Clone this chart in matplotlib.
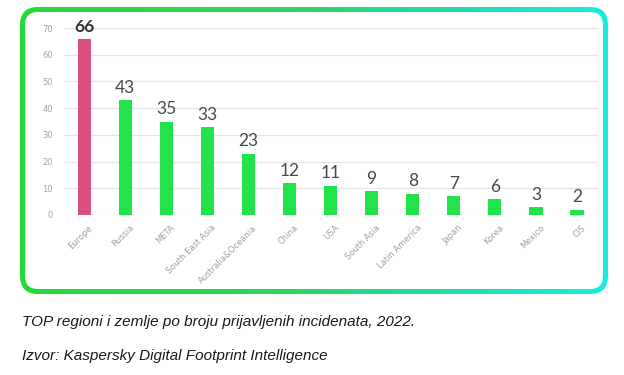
import matplotlib
matplotlib.use("Agg")
import matplotlib.pyplot as plt
import numpy as np
from matplotlib.patches import FancyBboxPatch
from matplotlib.colors import LinearSegmentedColormap
import matplotlib.transforms as mtransforms

categories = ["Europe", "Russia", "META", "South East Asia", "Australia&Oceania",
              "China", "USA", "South Asia", "Latin America", "Japan", "Korea",
              "Mexico", "CIS"]
values = [66, 43, 35, 33, 23, 12, 11, 9, 8, 7, 6, 3, 2]
yticks = [0, 10, 20, 30, 40, 50, 60, 70]
caption1 = "TOP regioni i zemlje po broju prijavljenih incidenata, 2022."
caption2 = "Izvor: Kaspersky Digital Footprint Intelligence"

W, H = 624, 375
fig = plt.figure(figsize=(W / 100, H / 100), dpi=100)
fig.patch.set_facecolor("white")

# background axes in pixel coordinates
bg = fig.add_axes([0, 0, 1, 1])
bg.set_xlim(0, W)
bg.set_ylim(H, 0)
bg.axis("off")

cmap = LinearSegmentedColormap.from_list(
    "grad", [(0.0, "#22dc3a"), (0.45, "#28d65e"), (0.75, "#22dcb0"), (1.0, "#14f0dc")])
grad = np.linspace(0, 1, 512).reshape(1, -1)
x0, y0, x1, y1 = 20, 7, 608, 294
img = bg.imshow(grad, cmap=cmap, extent=(x0, x1, y1, y0), aspect="auto", zorder=0)
outer = FancyBboxPatch((x0, y0), x1 - x0, y1 - y0,
                       boxstyle="round,pad=0,rounding_size=18",
                       transform=bg.transData, facecolor="none", edgecolor="none")
bg.add_patch(outer)
img.set_clip_path(outer)
bw = 5
inner = FancyBboxPatch((x0 + bw, y0 + bw), x1 - x0 - 2 * bw, y1 - y0 - 2 * bw,
                       boxstyle="round,pad=0,rounding_size=13",
                       facecolor="white", edgecolor="none", zorder=1)
bg.add_patch(inner)

bg.text(22, 322, caption1, fontsize=11, style="italic", family="Liberation Sans",
        va="center", ha="left", color="#1a1a1a", zorder=2)
bg.text(22, 356, caption2, fontsize=11, style="italic", family="Liberation Sans",
        va="center", ha="left", color="#1a1a1a", zorder=2)

# chart axes
left, right = 64 / W, 598 / W
bottom, top = (H - 215) / H, (H - 28) / H
ax = fig.add_axes([left, bottom, right - left, top - bottom])
ax.set_facecolor("none")
x = np.arange(len(categories))
colors = ["#d9507f"] + ["#22e34a"] * (len(categories) - 1)
ax.bar(x, values, width=0.32, color=colors, zorder=3)
ax.set_xlim(-0.49, len(categories) - 0.49)
ax.set_ylim(0, 70)
ax.set_yticks(yticks)
ax.set_yticklabels([str(t) for t in yticks], fontsize=6, color="#a5a5a5")
ax.tick_params(axis="y", length=0, pad=8)
ax.grid(axis="y", color="#e6e6e6", linewidth=0.9, zorder=0)
for s in ax.spines.values():
    s.set_visible(False)

ax.set_xticks(x)
ax.set_xticklabels(categories, rotation=45, ha="right", rotation_mode="anchor",
                   fontsize=6, color="#a0a0a0")
ax.tick_params(axis="x", length=0, pad=6)
offset = mtransforms.ScaledTranslation(4 / 100, 0, fig.dpi_scale_trans)
for lab in ax.get_xticklabels():
    lab.set_transform(lab.get_transform() + offset)

for i, v in enumerate(values):
    ax.annotate(str(v), (x[i], v), xytext=(0, 3), textcoords="offset points",
                ha="center", va="bottom", fontsize=12.5, family="Lato",
                color="#4a4a4a" if i else "#333333",
                fontweight="bold" if i == 0 else "normal", zorder=4)

fig.savefig("out.png", dpi=100, facecolor="white")
